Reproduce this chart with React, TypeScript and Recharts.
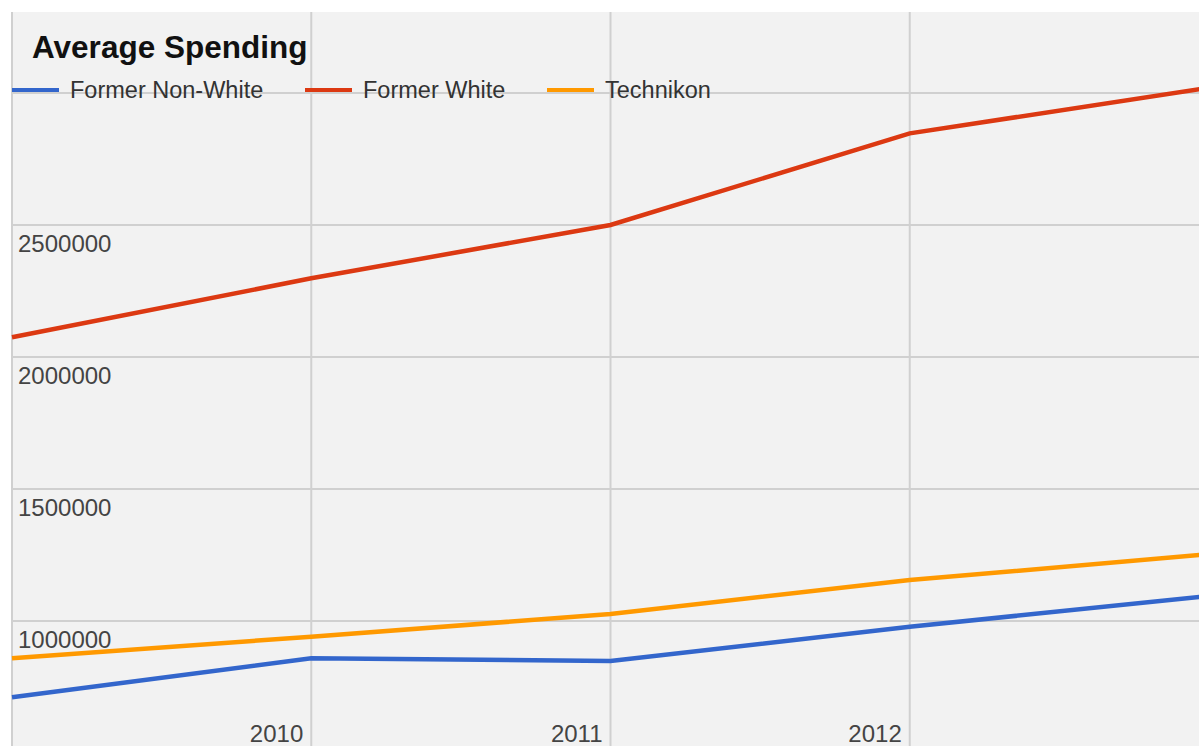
/*
 * Average Spending: three lines over the years, Google-chart look
 * grey plot, gridlines, labels drawn inside the plot, legend on the top gridline
 */
import { CartesianGrid, Legend, Line, LineChart, ReferenceLine, XAxis, YAxis } from "recharts";

const YEARS = [2009, 2010, 2011, 2012, 2013];
const FORMER_NON_WHITE = [711000, 859000, 848500, 978000, 1095000];
const FORMER_WHITE = [2075000, 2298000, 2500000, 2847000, 3020000];
const TECHNIKON = [859000, 940500, 1026500, 1155000, 1253000];

const Y_TICKS = [1000000, 1500000, 2000000, 2500000, 3000000];
const Y_LABELED = [1000000, 1500000, 2000000, 2500000];
const X_LABELED = [2010, 2011, 2012];

const SERIES = [
  { key: "nonWhite", name: "Former Non-White", color: "#3366cc", values: FORMER_NON_WHITE },
  { key: "white", name: "Former White", color: "#dc3912", values: FORMER_WHITE },
  { key: "technikon", name: "Technikon", color: "#ff9900", values: TECHNIKON },
];

const data = YEARS.map((year, i) => ({
  year,
  nonWhite: FORMER_NON_WHITE[i],
  white: FORMER_WHITE[i],
  technikon: TECHNIKON[i],
}));

// plot runs from y=12 to y=746, 132px per 500000 with 1000000 on y=621
const PER_PX = 500000 / 132;
const Y_DOMAIN = [1000000 - (746 - 621) * PER_PX, 1000000 + (621 - 12) * PER_PX];

const FONT = "'Liberation Sans', Arial, Helvetica, sans-serif";
const GRID = "#d0d0d0";

const YTick = ({ x, y, payload }: any) => {
  if (!Y_LABELED.includes(payload.value)) return null;
  return (
    <text x={x + 6} y={y + 27} fill="#444" fontSize={24} fontFamily={FONT} textAnchor="start">
      {payload.value}
    </text>
  );
};

const XTick = ({ x, y, payload }: any) => {
  if (!X_LABELED.includes(payload.value)) return null;
  return (
    <text x={x - 8} y={y - 4} fill="#444" fontSize={24} fontFamily={FONT} textAnchor="end">
      {payload.value}
    </text>
  );
};

const LEGEND_X = [0, 293, 535];

const LegendContent = () => (
  <div style={{ position: "relative", height: 24, fontFamily: FONT }}>
    {SERIES.map((s, i) => (
      <div
        key={s.key}
        style={{
          position: "absolute",
          left: LEGEND_X[i],
          top: 0,
          display: "flex",
          alignItems: "center",
          height: 24,
          whiteSpace: "nowrap",
        }}
      >
        <span style={{ width: 47, height: 4, background: s.color, marginRight: 11 }} />
        <span style={{ fontSize: 23.5, lineHeight: "24px", color: "#333" }}>{s.name}</span>
      </div>
    ))}
  </div>
);

export default function App() {
  return (
    <div
      style={{
        position: "absolute",
        top: 0,
        left: 0,
        width: 1199,
        height: 746,
        overflow: "hidden",
        background: "#fff",
      }}
    >
      <LineChart
        width={1230}
        height={747}
        data={data}
        margin={{ top: 12, right: 21, left: 11, bottom: 0 }}
      >
        {/* horizontal rows come from ReferenceLines so no edge lines get drawn */}
        <CartesianGrid fill="#f2f2f2" stroke={GRID} strokeWidth={2} horizontal={false} />
        <XAxis
          dataKey="year"
          type="number"
          domain={[2009, 2013]}
          ticks={YEARS}
          height={1}
          axisLine={false}
          tickLine={false}
          tickSize={0}
          tickMargin={0}
          tick={<XTick />}
          interval={0}
        />
        <YAxis
          type="number"
          domain={Y_DOMAIN}
          ticks={Y_TICKS}
          allowDataOverflow
          width={1}
          axisLine={false}
          tickLine={false}
          tickSize={0}
          tickMargin={0}
          tick={<YTick />}
          interval={0}
        />
        {Y_TICKS.map((t) => (
          <ReferenceLine key={t} y={t} stroke={GRID} strokeWidth={2} />
        ))}
        <Legend
          layout="horizontal"
          verticalAlign="middle"
          align="center"
          content={<LegendContent />}
          wrapperStyle={{ top: 78, left: 12, width: 800 }}
        />
        {SERIES.map((s) => (
          <Line
            key={s.key}
            type="linear"
            dataKey={s.key}
            name={s.name}
            stroke={s.color}
            strokeWidth={4.5}
            dot={false}
            activeDot={false}
            isAnimationActive={false}
          />
        ))}
      </LineChart>
      <div
        style={{
          position: "absolute",
          left: 32,
          top: 32,
          fontFamily: FONT,
          fontWeight: "bold",
          fontSize: 31.5,
          lineHeight: "31px",
          color: "#111",
          whiteSpace: "nowrap",
        }}
      >
        Average Spending
      </div>
    </div>
  );
}
